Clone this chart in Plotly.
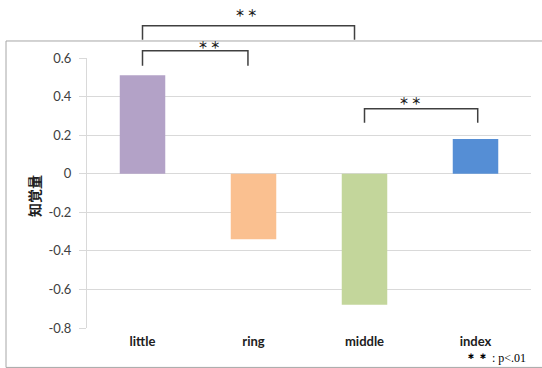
import plotly.graph_objects as go

categories = ["little", "ring", "middle", "index"]
values = [0.51, -0.34, -0.68, 0.18]
colors = ["#b3a2c7", "#fac090", "#c3d69b", "#558ed5"]
tick_vals = [0.6, 0.4, 0.2, 0, -0.2, -0.4, -0.6, -0.8]
tick_text = ["0.6", "0.4", "0.2", "0", "-0.2", "-0.4", "-0.6", "-0.8"]
y_title = "知覚量"
sig_label = "<b>＊＊</b> : p<.01"
# brackets: (x_left_cat, x_right_cat, y_top, y_bottom, star_x, star_y)
brackets = [
    (0.0, 1.91, 0.767, 0.695, 0.93, 0.835),
    (0.0, 0.95, 0.638, 0.56, 0.48, 0.672),
    (2.0, 3.02, 0.337, 0.264, 2.53, 0.38),
]

Y0, Y1 = -0.8, 0.6
N = len(categories)

def px(c):
    return (c + 0.5) / N

def py(v):
    return (v - Y0) / (Y1 - Y0)

fig = go.Figure(go.Bar(x=categories, y=values, marker=dict(color=colors, line=dict(width=0)),
                       width=0.41))

shapes = []
annotations = []
for xl, xr, yt, yb, sx, sy in brackets:
    shapes.append(dict(type="path", xref="paper", yref="paper",
                       path=f"M {px(xl)},{py(yb)} L {px(xl)},{py(yt)} L {px(xr)},{py(yt)} L {px(xr)},{py(yb)}",
                       line=dict(color="#404040", width=1.5)))
    annotations.append(dict(x=px(sx), y=py(sy), xref="paper", yref="paper", text="<b>＊ ＊</b>",
                            yanchor="middle", showarrow=False,
                            font=dict(size=10, color="#202020", family="Noto Sans CJK JP")))

# outer chart border
shapes.append(dict(type="rect", xref="paper", yref="paper", x0=-0.1824, x1=1.06, y0=-0.146, y1=1.063,
                   line=dict(color="#a6a6a6", width=1), layer="below"))

annotations.append(dict(x=-0.148, y=0.49, xref="paper", yref="paper", text=f"<b>{y_title}</b>",
                        textangle=-90, showarrow=False,
                        font=dict(size=14, color="#202020", family="Noto Sans CJK JP")))
annotations.append(dict(x=0.993, y=-0.111, xref="paper", yref="paper", xanchor="right", yanchor="middle",
                        text=sig_label, showarrow=False,
                        font=dict(size=12, color="#000000", family="Liberation Serif")))

fig.update_layout(
    width=542, height=368,
    margin=dict(l=87, r=11, t=58, b=40),
    paper_bgcolor="white", plot_bgcolor="white",
    showlegend=False,
    shapes=shapes, annotations=annotations,
    xaxis=dict(type="category", range=[-0.5, N - 0.5], showgrid=False, showline=False,
               ticks="", ticklabelstandoff=4,
               tickfont=dict(family="Lato", size=13, color="#202020", weight="bold")),
    yaxis=dict(range=[Y0, Y1], tickvals=tick_vals, ticktext=tick_text,
               showgrid=True, gridcolor="#d9d9d9", gridwidth=1,
               zeroline=True, zerolinecolor="#d9d9d9", zerolinewidth=1,
               showline=True, linecolor="#d9d9d9", linewidth=1,
               ticks="outside", ticklen=7, tickcolor="#d9d9d9",
               ticklabelstandoff=5,
               tickfont=dict(family="Lato", size=13, color="#404040")),
)

fig.write_html("out.html", config={"displayModeBar": False},
               post_script="document.body.style.margin='0';document.body.style.overflow='hidden';")
